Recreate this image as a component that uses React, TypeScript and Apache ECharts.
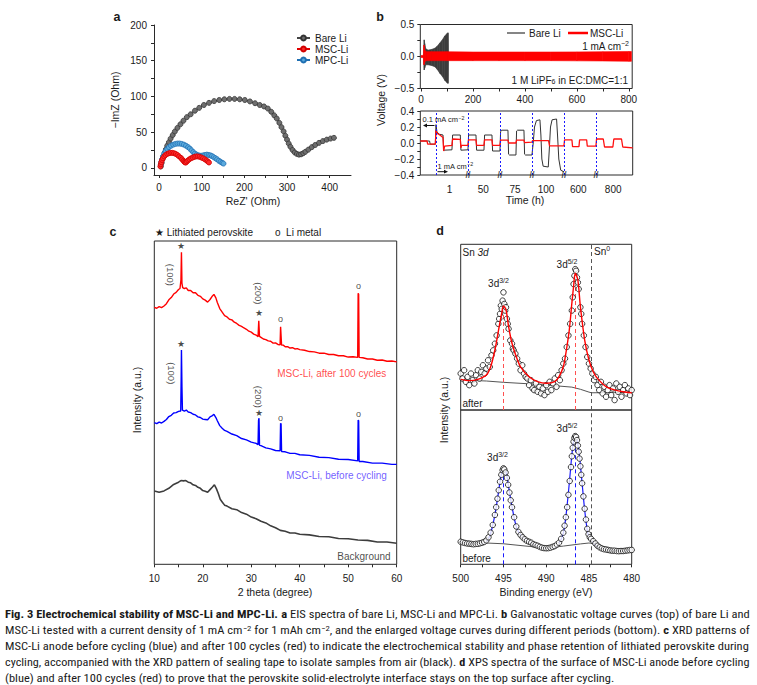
import React, { useEffect, useRef } from "react";
import * as echarts from "echarts";

const FONT = '"Liberation Sans", Arial, Helvetica, sans-serif';
const CAP_FONT = '"Liberation Sans Narrow", "Roboto Condensed", "DejaVu Sans Condensed", "Liberation Sans", Arial, sans-serif';
const AX = "#2a2a2a";

// ---------- panel a : EIS (ReZ', -ImZ) ----------
const eisBareLi = [[4,2],[6,7],[8,12],[10,16],[13,21],[16,26],[19,31],[23,36],[27,41],[32,46],[37,51],[43,56],[50,61],[57,66],[65,71],[74,75],[84,80],[94,84],[105,88],[117,91],[129,93.5],[141,95],[153,96],[165,96.5],[177,96.5],[189,96],[201,95],[213,93],[225,90.5],[236,88],[246,86],[255,83],[263,78.5],[270,73.5],[276,69],[282,63],[287,57],[292,51],[296,45],[300,39.5],[304,34],[308,29.5],[313,25],[318,21.5],[323,19.5],[328,18.5],[333,19],[338,20.5],[343,22.5],[350,25.5],[358,29],[366,32],[375,35],[384,37.5],[393,39.5],[402,41],[410,42]];
const eisMscLi = [[3,2],[4,5],[5,8],[7,11],[9,13.5],[12,16],[15,18],[19,19.5],[23,20.5],[27,21],[31,21],[35,20.5],[39,19.5],[43,18],[47,16],[51,14],[54,12],[57,10],[59,8.5],[61,7.5],[63,7.5],[65,9],[68,10.5],[71,12],[75,13.5],[79,14.5],[83,15.5],[87,16],[91,16],[95,15.5],[99,14.5],[103,13.5],[107,12],[111,10.5],[114,9],[117,7.5]];
const eisMpcLi = [[4,4],[5,8],[7,12],[9,16],[12,20],[15,23.5],[19,26.5],[23,29],[28,31],[33,32.5],[38,33.5],[43,34],[48,34],[53,33.5],[58,32.5],[63,31],[68,29],[72,27],[76,24.5],[80,22],[84,20],[88,18.5],[92,17.5],[96,17],[100,17],[104,17.5],[108,18],[112,18.5],[116,18],[120,17.5],[124,16.5],[128,15],[132,13.5],[136,12],[140,10],[144,8.5],[148,7],[151,6]];
const eisXTicks = [0,50,100,150,200,250,300,350,400];
const eisXLabels = [0,100,200,300,400];
const eisYTicks = [0,25,50,75,100,125,150,175,200];
const eisYLabels = [0,50,100,150,200];

// ---------- panel b (top) : long cycling envelopes ----------
const cycBlackX = [11,12,14,18,27,40,53,62,72,82,91,100,104,105];
const cycBlackHi = [0.05,0.26,0.2,0.12,0.1,0.11,0.13,0.16,0.21,0.26,0.32,0.36,0.37,0.03];
const cycBlackLo = [-0.05,-0.21,-0.18,-0.13,-0.13,-0.14,-0.16,-0.2,-0.26,-0.31,-0.37,-0.41,-0.42,-0.03];
const cycRedX = [0,10,11,12.5,15,20,40,100,200,300,400,500,600,700,800,810];
const cycRedHi = [0.015,0.02,0.18,0.13,0.09,0.075,0.075,0.075,0.07,0.07,0.07,0.07,0.072,0.075,0.078,0.078];
const cycRedLo = [-0.015,-0.02,-0.13,-0.1,-0.075,-0.065,-0.065,-0.065,-0.065,-0.065,-0.065,-0.065,-0.068,-0.07,-0.075,-0.075];
const cycXTicks = [0,100,200,300,400,500,600,700,800];
const cycXLabels = [0,200,400,600,800];
const cycYTicks = [-0.5,-0.25,0,0.25,0.5];
const cycYLabels = [-0.5,0,0.5];

// ---------- panel b (bottom) : enlarged periods (segment units) ----------
const zoomBlack = [[-0.49,0.025],[-0.2,0.025],[-0.18,-0.015],[-0.02,-0.015],[0,0.23],[0.03,0.14],[0.1,0.11],[0.22,0.1],[0.24,-0.09],[0.5,-0.085],[0.52,0.1],[0.76,0.1],[0.78,-0.09],[1.0,-0.085],[1.02,0.1],[1.25,0.1],[1.27,-0.09],[1.5,-0.09],[1.52,0.1],[1.75,0.1],[1.77,-0.1],[2.0,-0.1],[2.02,0.14],[2.05,0.16],[2.25,0.16],[2.27,-0.14],[2.3,-0.15],[2.5,-0.15],[2.52,0.15],[2.55,0.16],[2.75,0.16],[2.77,-0.14],[2.8,-0.15],[3.0,-0.15],[3.04,0.0],[3.08,0.2],[3.14,0.28],[3.25,0.29],[3.28,0.1],[3.31,-0.2],[3.35,-0.29],[3.51,-0.3],[3.54,-0.1],[3.58,0.2],[3.63,0.29],[3.77,0.3],[3.8,0.1],[3.84,-0.2],[3.9,-0.34],[4.0,-0.36]];
const zoomRed = [[-0.49,0.025],[-0.28,0.025],[-0.26,-0.015],[-0.02,-0.015],[0,0.16],[0.04,0.12],[0.12,0.1],[0.22,0.07],[0.24,-0.1],[0.27,-0.04],[0.5,-0.03],[0.52,0.05],[0.76,0.045],[0.78,-0.06],[0.8,-0.03],[1.0,-0.03],[1.02,0.04],[1.25,0.04],[1.27,-0.03],[1.5,-0.03],[1.52,0.04],[1.75,0.04],[1.77,-0.03],[2.0,-0.03],[2.02,0.035],[2.25,0.035],[2.27,0.0],[2.5,0.0],[2.52,0.035],[2.75,0.035],[2.77,0.005],[3.0,0.01],[3.02,0.03],[3.52,0.03],[3.55,-0.035],[4.0,-0.035],[4.02,0.04],[4.25,0.04],[4.27,-0.045],[4.47,-0.045],[4.49,0.04],[4.71,0.04],[4.73,-0.04],[5.0,-0.04],[5.02,0.05],[5.23,0.05],[5.27,-0.05],[5.53,-0.05],[5.56,0.05],[5.8,0.05],[5.84,-0.05],[6.15,-0.06]];
const zoomTickPos = [0.42,1.48,2.47,3.44,4.45,5.54];
const zoomTickText = ["1","50","75","100","600","800"];
const zoomDividers = [0,1,2,3,4,5];
const zoomBreaks = [1,2,3,4,5];
const zoomYTicks = [-0.4,-0.3,-0.2,-0.1,0,0.1,0.2,0.3,0.4];
const zoomYLabels = [-0.4,-0.2,0,0.2,0.4];

// ---------- panel c : XRD ----------
const xrdAfter = [[10,79.5],[10.5,79.2],[11,79.7],[11.5,79.4],[12,79.9],[12.5,80.6],[13,81.8],[13.5,82.5],[14,83.6],[14.5,84.1],[15,85],[15.3,85.3],[15.5,88],[15.6,96.5],[15.7,87],[15.85,85.6],[16.2,85.3],[16.6,85.5],[17,84.7],[17.5,84.7],[18,84],[18.5,84],[19,83.2],[19.5,82.9],[20,82.1],[20.5,81.7],[21,81.1],[21.5,81.9],[22,83],[22.3,83.5],[22.7,82.4],[23,81],[23.5,79.1],[24,78],[24.5,76.9],[25,76.5],[25.5,75.8],[26,75.6],[26.5,74.9],[27,74.5],[27.5,73.9],[28,73.6],[28.5,73.1],[29,72.7],[29.5,72.1],[30,71.8],[30.5,71.2],[31,70.9],[31.4,70.4],[31.55,75.3],[31.7,70.5],[32,70.2],[32.5,69.7],[33,69.5],[33.5,69.1],[34,69],[34.5,68.4],[35,68.5],[35.5,68],[35.95,67.9],[36.05,73.5],[36.15,73.4],[36.25,67.8],[36.6,67.8],[37,67.3],[37.5,67.3],[38,66.9],[38.5,67],[39,66.6],[39.5,66.7],[40,66.4],[41,66.2],[42,65.8],[43,65.7],[44,65.3],[45,65.3],[46,64.9],[47,64.9],[48,64.5],[49,64.5],[50,64.1],[51,64.2],[51.95,64],[52.05,83.8],[52.15,83.5],[52.25,64],[53,63.9],[54,63.5],[55,63.5],[56,63.1],[57,63.2],[58,62.8],[59,62.9],[60,62.6]];
const xrdBefore = [[10,43.8],[10.5,43.5],[11,44],[11.5,43.7],[12,44.2],[12.5,44.8],[13,45.7],[13.5,46.1],[14,46.8],[14.5,46.9],[15,47.3],[15.45,47.4],[15.55,58],[15.6,66.3],[15.7,55],[15.8,47.7],[16.2,47.4],[16.6,47.7],[17,47.1],[17.5,46.9],[18,46.4],[18.5,46.2],[19,45.6],[19.5,45.4],[20,44.9],[20.5,44.8],[21,44.7],[21.5,45.6],[22,46],[22.3,46.4],[22.7,45.4],[23,44.4],[23.5,42.9],[24,42.1],[24.5,41.4],[25,41.1],[26,40.3],[27,39.8],[28,38.9],[29,38.5],[30,37.8],[31,37.4],[31.4,37],[31.5,44.5],[31.6,45.2],[31.7,36.8],[32,36.7],[33,36],[34,35.7],[35,35.2],[35.95,35.1],[36.05,43.6],[36.15,43.4],[36.25,34.9],[37,34.8],[38,34.3],[39,34.3],[40,33.9],[42,33.7],[44,33.1],[46,33],[48,32.5],[50,32.4],[51.95,32],[52.05,44.6],[52.15,44.4],[52.25,31.8],[53,31.8],[55,31.3],[57,31.3],[59,30.9],[60,30.9]];
const xrdBackground = [[10,22.7],[11,22.3],[12,22.7],[13,23.5],[14,24.7],[15,25.4],[15.5,25.9],[16,25.8],[16.5,25.9],[17,25.4],[17.5,25.2],[18,24.6],[18.5,24.4],[19,23.8],[19.5,23.5],[20,22.8],[20.5,22.6],[21,22.3],[21.5,23.1],[22,23.9],[22.4,24.6],[22.8,23.4],[23.2,21.9],[23.6,20.1],[24,19.3],[24.5,18.3],[25,18],[26,17.2],[27,16.9],[28,16],[29,15.5],[30,14.6],[31,14.1],[32,13.3],[33,12.8],[34,11.9],[35,11.3],[36,10.5],[37,10.2],[38,9.7],[39,9.7],[40,9.3],[42,9.1],[44,8.6],[46,8.5],[48,8],[50,7.9],[52,7.5],[54,7.4],[56,6.9],[58,6.9],[60,6.5]];
const xrdStarAfter = [[15.6,98.3],[31.55,77.6]];
const xrdLiAfter = [[36.05,76],[52.1,86.1]];
const xrdStarBefore = [[15.6,68.1],[31.55,46.8]];
const xrdLiBefore = [[36.05,45.4],[52.1,46.6]];
const xrdHklAfter = [[13.3,89.5],[31.45,83.8]];
const xrdHklBefore = [[13.6,59.1],[31.45,51.8]];
const xrdHklText = ["(100)","(200)"];
const xrdSampleLabelPos = [[46.6,59.1],[47.6,27.6],[53.25,2.4]];
const xrdSampleLabelText = ["MSC-Li, after 100 cycles","MSC-Li, before cycling","Background"];
const xrdTicks = [10,15,20,25,30,35,40,45,50,55,60];
const xrdLabels = [10,20,30,40,50,60];

// ---------- panel d : XPS Sn 3d ----------
const xpsAfterPts = [[500,22],[499.8,19],[499.6,24],[499.4,17],[499.2,20],[499,15],[498.8,22],[498.6,18],[498.4,16],[498.2,21],[498,24],[497.8,19],[497.6,23],[497.4,27],[497.2,22],[497,25],[496.8,30],[496.6,26],[496.4,33],[496.2,36],[496,40],[495.8,45],[495.6,52],[495.5,55],[495.4,58],[495.3,63],[495.2,61],[495.1,66],[495,71],[494.9,64],[494.8,60],[494.7,62],[494.6,55],[494.5,52],[494.4,49],[494.2,42],[494,40],[493.9,37],[493.8,36],[493.6,34],[493.4,31],[493.2,28],[493,24],[492.8,27],[492.6,22],[492.4,20],[492.2,19],[492,15],[491.8,18],[491.6,13],[491.4,12],[491.2,16],[491,11],[490.8,14],[490.6,10],[490.4,13],[490.2,9],[490,15],[489.8,11],[489.6,17],[489.4,12],[489.2,16],[489,19],[488.8,14],[488.6,21],[488.4,18],[488.2,24],[488,28],[487.8,31],[487.6,38],[487.4,45],[487.2,52],[487,60],[486.9,68],[486.8,76],[486.7,81],[486.6,85],[486.5,84],[486.4,80],[486.3,77],[486.2,73],[486,62],[485.9,58],[485.8,52],[485.6,45],[485.4,38],[485.2,32],[485,28],[484.8,25],[484.6,22],[484.4,18],[484.2,20],[484,15],[483.8,12],[483.6,17],[483.4,10],[483.2,14],[483,8],[482.8,12],[482.6,15],[482.4,9],[482.2,13],[482,6],[481.8,16],[481.6,11],[481.4,14],[481.2,8],[481,12],[480.8,15],[480.6,10],[480.4,13],[480.2,9],[480,12]];
const xpsAfterFit = [[500,18.5],[499,17.7],[498,18.5],[497,21.1],[496.5,26.1],[496,36.2],[495.5,50.3],[495.2,58.4],[495,62.8],[494.7,60.4],[494.4,50.3],[494,40.3],[493.5,32.2],[493,26.1],[492,20.1],[491,17.1],[490,16.1],[489,17.1],[488.5,20.1],[488,26.1],[487.7,34.2],[487.3,48.3],[487,64.4],[486.8,74.4],[486.6,82.5],[486.3,78.5],[486,62.3],[485.5,42.2],[485,30.2],[484.5,23.1],[484,19.1],[483,14.1],[482,12.1],[481,11],[480,10.4]];
const xpsAfterBase = [[500,18.1],[497,17.5],[495,16.7],[492,15.8],[490,15.1],[487,13.8],[486,12.5],[485,10.8],[484.7,10.4],[482,10.5],[480,10.6]];
const xpsBeforePts = [[500,14.6],[499.75,14.2],[499.5,13.8],[499.25,13.5],[499,13.4],[498.75,13.2],[498.5,13],[498.25,13.2],[498,13.3],[497.75,13.6],[497.5,14],[497.25,14.5],[497,15.5],[496.75,17.5],[496.5,20.5],[496.25,25.5],[496,32],[495.85,37],[495.7,42.5],[495.55,48],[495.4,53.5],[495.25,58],[495.1,61],[495,62.2],[494.9,61.5],[494.75,59.5],[494.6,56],[494.45,51.5],[494.3,46.5],[494.15,41.5],[494,37],[493.75,30.5],[493.5,24.5],[493.25,21],[493,19],[492.75,17.5],[492.5,16.2],[492.25,15.2],[492,14.6],[491.75,14],[491.5,13],[491.25,12.5],[491,12],[490.75,11.3],[490.5,10.8],[490.25,10.5],[490,10.4],[489.75,10.5],[489.5,10.8],[489.25,11.3],[489,11.8],[488.75,12.8],[488.5,14],[488.25,16.5],[488,20.5],[487.85,25],[487.7,30.5],[487.55,37],[487.4,45],[487.25,54],[487.1,63],[487,70],[486.9,75.5],[486.8,79.5],[486.7,82],[486.6,83.1],[486.5,82.5],[486.4,80.5],[486.3,77],[486.2,73],[486.1,68.5],[486,63.5],[485.9,58],[485.8,52.5],[485.65,44],[485.5,36],[485.35,29],[485.2,23],[485.05,19.5],[484.9,17.5],[484.75,16.5],[484.5,15],[484.25,13.5],[484,12],[483.75,11],[483.5,10.3],[483.25,9.8],[483,9.6],[482.75,9.3],[482.5,9],[482.25,8.8],[482,8.8],[481.75,8.6],[481.5,8.5],[481.25,8.6],[481,8.6],[480.75,8.8],[480.5,9],[480.25,9.2],[480,9.3]];
const xpsBeforeFit = [[500,14.6],[499,13.6],[498,13.2],[497,14.6],[496.5,20.1],[496,32],[495.6,46],[495.3,56.8],[495,62.2],[494.7,60],[494.4,50.3],[494,37.3],[493.5,24.4],[493,19],[492,14.6],[491,11.9],[490,10.4],[489,10.8],[488.5,13.6],[488,20.1],[487.7,30.8],[487.3,52.5],[487,70.8],[486.8,79.5],[486.6,83.1],[486.4,81],[486.1,69.7],[485.8,52.5],[485.5,35.2],[485.2,22.2],[485,17.9],[484.5,14],[484,11.4],[483,9.7],[482,8.8],[481,8.6],[480,9.3]];
const xpsBeforeBase = [[500,14.5],[497,13.8],[495,13.3],[492,11.6],[490,10.5],[488,11.8],[486,13.2],[485,13.8],[484.5,13.5],[483,9.7],[480,9.3]];
const xpsPeakAfter = [[495,62.8],[486.6,82.5]];
const xpsPeakBefore = [[495,62.2],[486.6,83.1]];
const xpsSn0 = 484.7;
const xpsTicks = [480,482.5,485,487.5,490,492.5,495,497.5,500];
const xpsLabels = [480,485,490,495,500];

// ---------- caption ----------
const captionLines = [
  "{b|Fig. 3 Electrochemical stability of MSC-Li and MPC-Li.} {b|a} EIS spectra of bare Li, MSC-Li and MPC-Li. {b|b} Galvanostatic voltage curves (top) of bare Li and",
  "MSC-Li tested with a current density of 1 mA cm{sup|−2} for 1 mAh cm{sup|−2}, and the enlarged voltage curves during different periods (bottom). {b|c} XRD patterns of",
  "MSC-Li anode before cycling (blue) and after 100 cycles (red) to indicate the electrochemical stability and phase retention of lithiated perovskite during",
  "cycling, accompanied with the XRD pattern of sealing tape to isolate samples from air (black). {b|d} XPS spectra of the surface of MSC-Li anode before cycling",
  "(blue) and after 100 cycles (red) to prove that the perovskite solid-electrolyte interface stays on the top surface after cycling.",
];
const CAP_SIZE = 11.5;

const minus = (s: string) => s.replace("-", "\u2212");

function measureLine(line: string, size: number): number {
  try {
    const ctx = document.createElement("canvas").getContext("2d");
    if (!ctx) return 0;
    let w = 0;
    const re = /\{(\w+)\|([^}]*)\}|([^{]+)/g;
    let m: RegExpExecArray | null;
    while ((m = re.exec(line))) {
      if (m[3]) { ctx.font = `${size}px ${CAP_FONT}`; w += ctx.measureText(m[3]).width; }
      else if (m[1] === "b") { ctx.font = `bold ${size}px ${CAP_FONT}`; w += ctx.measureText(m[2]).width; }
      else { ctx.font = `${size * 0.7}px ${CAP_FONT}`; w += ctx.measureText(m[2]).width; }
    }
    return w;
  } catch (e) {
    return 0;
  }
}

const txt = (text: string, x: number, y: number, o: any = {}) => ({
  type: "text",
  x, y,
  rotation: o.rot || 0,
  silent: true,
  z: 50,
  style: {
    text,
    fill: o.color || "#1a1a1a",
    fontSize: o.size || 10,
    fontFamily: o.family || FONT,
    fontWeight: o.bold ? "bold" : "normal",
    align: o.align || "center",
    verticalAlign: "middle",
    rich: o.rich,
  },
});

const supRich = (size: number) => ({
  sup: { fontSize: size * 0.7, fontFamily: FONT, verticalAlign: "top", padding: [0, 0, size * 0.45, 0] },
  sub: { fontSize: size * 0.7, fontFamily: FONT, verticalAlign: "bottom", padding: [size * 0.35, 0, 0, 0] },
  i: { fontSize: size, fontFamily: FONT, fontStyle: "italic" },
});

export default function App() {
  const ref = useRef<HTMLDivElement>(null);
  useEffect(() => {
    document.body.style.margin = "0";
    if (!ref.current) return;
    const chart = echarts.init(ref.current, undefined, { renderer: "svg" });

    // horizontal fit of caption lines (justified look)
    const capWidths = captionLines.map((l) => measureLine(l, CAP_SIZE));
    const capScales = capWidths.map((w) => (w > 0 ? 745 / w : 1));
    const fullScales = capScales.slice(0, 4);
    const meanScale = fullScales.reduce((a, b) => a + b, 0) / fullScales.length;
    capScales[4] = meanScale;

    const axisBase = (gi: number, o: any) => ({
      gridIndex: gi,
      type: "value",
      splitLine: { show: false },
      axisLine: { show: o.line !== false, onZero: false, lineStyle: { color: AX, width: 1 } },
      axisTick: o.ticks
        ? { show: true, length: 3, inside: false, customValues: o.ticks, lineStyle: { color: AX, width: 1 } }
        : { show: false },
      axisLabel: o.labels
        ? { show: true, customValues: o.labels, fontSize: 10, color: "#1a1a1a", fontFamily: FONT, margin: o.margin ?? 6, formatter: o.fmt }
        : { show: false },
      min: o.min, max: o.max, inverse: !!o.inverse,
    });

    const fmt1 = (v: number) => minus(v.toFixed(1));

    const xAxis = [
      axisBase(0, { min: -12, max: 450, ticks: eisXTicks, labels: eisXLabels, margin: 7 }),
      axisBase(1, { min: -3, max: 813, ticks: cycXTicks, labels: cycXLabels, margin: 6, line: false }),
      axisBase(2, { min: -0.49, max: 6.15, labels: zoomTickPos, margin: 9, line: false, fmt: (v: number) => zoomTickText[zoomTickPos.indexOf(v)] ?? "" }),
      axisBase(3, { min: 10, max: 60, ticks: xrdTicks, labels: xrdLabels, margin: 9, line: false }),
      axisBase(4, { min: 480, max: 500, inverse: true, line: false }),
      axisBase(5, { min: 480, max: 500, inverse: true, ticks: xpsTicks, labels: xpsLabels, margin: 9, line: false }),
    ];
    const yAxis = [
      axisBase(0, { min: -10, max: 200, ticks: eisYTicks, labels: eisYLabels, margin: 7 }),
      axisBase(1, { min: -0.5, max: 0.5, ticks: cycYTicks, labels: cycYLabels, margin: 6, line: false, fmt: fmt1 }),
      axisBase(2, { min: -0.4, max: 0.4, ticks: zoomYTicks, labels: zoomYLabels, margin: 6, line: false, fmt: fmt1 }),
      axisBase(3, { min: 0, max: 100, line: false }),
      axisBase(4, { min: 0, max: 100, line: false }),
      axisBase(5, { min: 0, max: 100, line: false }),
    ];

    const boxed = { show: true, borderColor: AX, borderWidth: 1, backgroundColor: "transparent", outerBoundsMode: "none", containLabel: false };
    const grid = [
      { left: 154, top: 25, width: 197, height: 150, outerBoundsMode: "none", containLabel: false },
      { left: 420.3, top: 24.5, width: 211.9, height: 64, ...boxed },
      { left: 420.3, top: 111, width: 212.4, height: 64, ...boxed },
      { left: 154.3, top: 241, width: 242.4, height: 323.3, ...boxed },
      { left: 460.7, top: 244.3, width: 171, height: 165.7, ...boxed },
      { left: 460.7, top: 410, width: 171, height: 154.3, ...boxed },
    ];

    const eisSeries = (name: string, data: number[][], fill: string, edge: string, line: string) => ({
      type: "line", name, xAxisIndex: 0, yAxisIndex: 0, data,
      symbol: "circle", symbolSize: 5, showSymbol: true,
      lineStyle: { color: line, width: 1 },
      itemStyle: { color: fill, borderColor: edge, borderWidth: 0.8 },
    });

    // envelope band between lo and hi, drawn as quads through the axis scales
    const band = (id: string, xs: number[], hi: number[], lo: number[], color: string, z: number) => ({
      type: "custom", name: id, xAxisIndex: 1, yAxisIndex: 1, z, silent: true,
      data: xs.map((x, i) => [x, lo[i], hi[i]]),
      encode: { x: 0, y: [1, 2] },
      renderItem: (params: any, api: any) => {
        const i = params.dataIndex;
        if (i >= xs.length - 1) return null;
        const p1 = api.coord([xs[i], lo[i]]);
        const p2 = api.coord([xs[i + 1], lo[i + 1]]);
        const p3 = api.coord([xs[i + 1], hi[i + 1]]);
        const p4 = api.coord([xs[i], hi[i]]);
        return { type: "polygon", shape: { points: [p1, p2, p3, p4] }, style: { fill: color, stroke: color, lineWidth: 0.6 } };
      },
    });

    const labelScatter = (xi: number, pts: number[][], texts: string[] | string, o: any = {}) => ({
      type: "scatter", xAxisIndex: xi, yAxisIndex: xi, symbolSize: 0, silent: true, z: 20,
      data: pts.map((p, i) => ({ value: p, name: Array.isArray(texts) ? texts[i] : texts })),
      label: {
        show: true, position: "inside", formatter: "{b}", fontSize: o.size || 10, color: o.color || "#1a1a1a",
        fontFamily: FONT, rotate: o.rotate || 0, fontWeight: o.bold ? "bold" : "normal",
      },
    });

    const xpsPts = (xi: number, data: number[][]) => ({
      type: "scatter", xAxisIndex: xi, yAxisIndex: xi, data, symbol: "circle", symbolSize: 5.5, z: 6,
      itemStyle: { color: "#ffffff", borderColor: "#111", borderWidth: 1 },
    });

    const dashPeak = (pts: number[][], color: string) => ({
      symbol: ["none", "none"], silent: true, label: { show: false },
      lineStyle: { color, type: [4, 3], width: 1 },
      data: pts.map(([x, y]) => [{ coord: [x, 0] }, { coord: [x, y] }]),
    });
    const sn0Line = {
      symbol: ["none", "none"], silent: true, label: { show: false },
      lineStyle: { color: "#555", type: [4, 3], width: 1 },
      data: [{ xAxis: xpsSn0 }],
    };

    const series: any[] = [
      // a
      eisSeries("Bare Li", eisBareLi, "#6f6f6f", "#333333", "#444444"),
      eisSeries("MPC-Li", eisMpcLi, "#5aa9dc", "#1f6fb2", "#1f6fb2"),
      eisSeries("MSC-Li", eisMscLi, "#ff2a2a", "#d00000", "#e00000"),
      // b top
      band("cyc-black", cycBlackX, cycBlackHi, cycBlackLo, "#3c3c3c", 2),
      band("cyc-red", cycRedX, cycRedHi, cycRedLo, "#ff0000", 3),
      // b bottom
      {
        type: "line", name: "zoom-black", xAxisIndex: 2, yAxisIndex: 2, data: zoomBlack, symbol: "none", z: 3,
        lineStyle: { color: "#333", width: 1 },
      },
      {
        type: "line", name: "zoom-red", xAxisIndex: 2, yAxisIndex: 2, data: zoomRed, symbol: "none", z: 4,
        lineStyle: { color: "#ff1010", width: 1.3 },
        markLine: {
          symbol: ["none", "none"], silent: true, label: { show: false },
          lineStyle: { color: "#1a1aff", type: [2, 2], width: 1 },
          data: zoomDividers.map((v) => ({ xAxis: v })),
        },
      },
      labelScatter(2, zoomBreaks.map((v) => [v, -0.4]), "//", { size: 9, bold: true }),
      // c
      { type: "line", name: "xrd-bg", xAxisIndex: 3, yAxisIndex: 3, data: xrdBackground, symbol: "none", lineStyle: { color: "#3d3d3d", width: 1.6 } },
      { type: "line", name: "xrd-before", xAxisIndex: 3, yAxisIndex: 3, data: xrdBefore, symbol: "none", lineStyle: { color: "#0000ff", width: 1.4 } },
      { type: "line", name: "xrd-after", xAxisIndex: 3, yAxisIndex: 3, data: xrdAfter, symbol: "none", lineStyle: { color: "#ff0000", width: 1.4 } },
      labelScatter(3, [...xrdStarAfter, ...xrdStarBefore], "\u2605", { size: 9 }),
      labelScatter(3, [...xrdLiAfter, ...xrdLiBefore], "o", { size: 9 }),
      labelScatter(3, [...xrdHklAfter, ...xrdHklBefore], [...xrdHklText, ...xrdHklText], { size: 9.5, rotate: -90 }),
      {
        ...labelScatter(3, xrdSampleLabelPos, xrdSampleLabelText, { size: 10 }),
        data: xrdSampleLabelPos.map((p, i) => ({
          value: p, name: xrdSampleLabelText[i],
          label: { color: ["#ff2020", "#5036ff", "#1a1a1a"][i] },
        })),
      },
      // d top (after)
      { type: "line", name: "xps-after-base", xAxisIndex: 4, yAxisIndex: 4, data: xpsAfterBase, symbol: "none", z: 2, lineStyle: { color: "#555", width: 1 }, markLine: sn0Line },
      { type: "line", name: "xps-after-fit", xAxisIndex: 4, yAxisIndex: 4, data: xpsAfterFit, symbol: "none", smooth: 0.3, z: 7, lineStyle: { color: "#ff0000", width: 1.4 }, markLine: dashPeak(xpsPeakAfter, "#ff5050") },
      xpsPts(4, xpsAfterPts),
      // d bottom (before)
      { type: "line", name: "xps-before-base", xAxisIndex: 5, yAxisIndex: 5, data: xpsBeforeBase, symbol: "none", z: 2, lineStyle: { color: "#555", width: 1 }, markLine: sn0Line },
      { type: "line", name: "xps-before-fit", xAxisIndex: 5, yAxisIndex: 5, data: xpsBeforeFit, symbol: "none", smooth: 0.3, z: 3, lineStyle: { color: "#1a1aff", width: 1.2 }, markLine: dashPeak(xpsPeakBefore, "#1a1aff") },
      xpsPts(5, xpsBeforePts),
    ];

    const r10 = supRich(10);
    const r8 = supRich(7.5);
    const capRich = {
      b: { fontSize: CAP_SIZE, fontFamily: CAP_FONT, fontWeight: "bold", fill: "#1a1a1a" },
      sup: { fontSize: CAP_SIZE * 0.7, fontFamily: CAP_FONT, verticalAlign: "top", padding: [0, 0, CAP_SIZE * 0.4, 0], fill: "#1a1a1a" },
    };

    const graphic: any[] = [
      txt("a", 117, 17, { bold: true, size: 12.5 }),
      txt("b", 380, 17, { bold: true, size: 12.5 }),
      txt("c", 113, 232, { bold: true, size: 12.5 }),
      txt("d", 440, 231, { bold: true, size: 12.5 }),
      // axis names
      txt("\u2212ImZ (Ohm)", 115, 100, { rot: Math.PI / 2, size: 10.5 }),
      txt("ReZ' (Ohm)", 253, 201, { size: 10.5 }),
      txt("Voltage (V)", 381, 100, { rot: Math.PI / 2, size: 10.5 }),
      txt("Time (h)", 525, 200, { size: 10.5 }),
      txt("Intensity (a.u.)", 137, 400, { rot: Math.PI / 2, size: 10.5 }),
      txt("2 theta (degree)", 275, 592, { size: 10.5 }),
      txt("Intensity (a.u.)", 444, 410, { rot: Math.PI / 2, size: 10.5 }),
      txt("Binding energy (eV)", 546, 592, { size: 10.5 }),
      // b top legend & notes
      { type: "line", silent: true, z: 50, shape: { x1: 507, y1: 33, x2: 525, y2: 33 }, style: { stroke: "#333", lineWidth: 1.2 } },
      txt("Bare Li", 529, 33, { align: "left" }),
      { type: "line", silent: true, z: 50, shape: { x1: 568, y1: 33, x2: 588, y2: 33 }, style: { stroke: "#ff0000", lineWidth: 2.5 } },
      txt("MSC-Li", 590, 33, { align: "left" }),
      txt("1 mA cm{sup|\u22122}", 629, 46, { align: "right", rich: r10 }),
      txt("1 M LiPF{sub|6} in EC:DMC=1:1", 628, 80, { align: "right", rich: r10 }),
      // b bottom notes
      txt("0.1 mA cm{sup|\u22122}", 422.5, 119.5, { align: "left", size: 7.5, rich: r8 }),
      { type: "line", silent: true, z: 50, shape: { x1: 434.5, y1: 125.5, x2: 426, y2: 125.5 }, style: { stroke: "#111", lineWidth: 1 } },
      { type: "polygon", silent: true, z: 50, shape: { points: [[423, 125.5], [427, 123.6], [427, 127.4]] }, style: { fill: "#111" } },
      txt("1 mA cm{sup|\u22122}", 437.5, 166, { align: "left", size: 7.5, rich: r8 }),
      { type: "line", silent: true, z: 50, shape: { x1: 437.5, y1: 171.7, x2: 445, y2: 171.7 }, style: { stroke: "#111", lineWidth: 1 } },
      { type: "polygon", silent: true, z: 50, shape: { points: [[448, 171.7], [444, 169.8], [444, 173.6]] }, style: { fill: "#111" } },
      // c legend
      txt("\u2605 Lithiated perovskite", 155, 232, { align: "left" }),
      txt("o  Li metal", 275, 232, { align: "left" }),
      // d labels
      txt("Sn {i|3d}", 462.5, 252, { align: "left", rich: r10 }),
      txt("Sn{sup|0}", 594, 251, { align: "left", rich: r10 }),
      txt("3d{sup|3/2}", 498.5, 283, { rich: r10 }),
      txt("3d{sup|5/2}", 567, 264, { rich: r10 }),
      txt("after", 462.5, 403, { align: "left" }),
      txt("3d{sup|3/2}", 497.5, 457, { rich: r10 }),
      txt("3d{sup|5/2}", 567, 428, { rich: r10 }),
      txt("before", 462.5, 558, { align: "left" }),
      // caption
      ...captionLines.map((line, i) => ({
        type: "text", x: 5, y: 614 + i * 16, scaleX: capScales[i], silent: true, z: 50,
        style: {
          text: line, fill: "#1a1a1a", fontSize: CAP_SIZE, fontFamily: CAP_FONT,
          align: "left", verticalAlign: "middle", rich: capRich,
        },
      })),
    ];

    chart.setOption({
      animation: false,
      backgroundColor: "#ffffff",
      textStyle: { fontFamily: FONT },
      grid, xAxis, yAxis, series, graphic,
      legend: [{
        data: ["Bare Li", "MSC-Li", "MPC-Li"],
        orient: "vertical", left: 291, top: 28, itemWidth: 13, itemHeight: 6, itemGap: 1,
        selectedMode: false,
        textStyle: { fontSize: 10, color: "#1a1a1a", fontFamily: FONT, lineHeight: 9 },
      }],
    });
    return () => chart.dispose();
  }, []);
  return <div ref={ref} style={{ width: 757, height: 685 }} />;
}
